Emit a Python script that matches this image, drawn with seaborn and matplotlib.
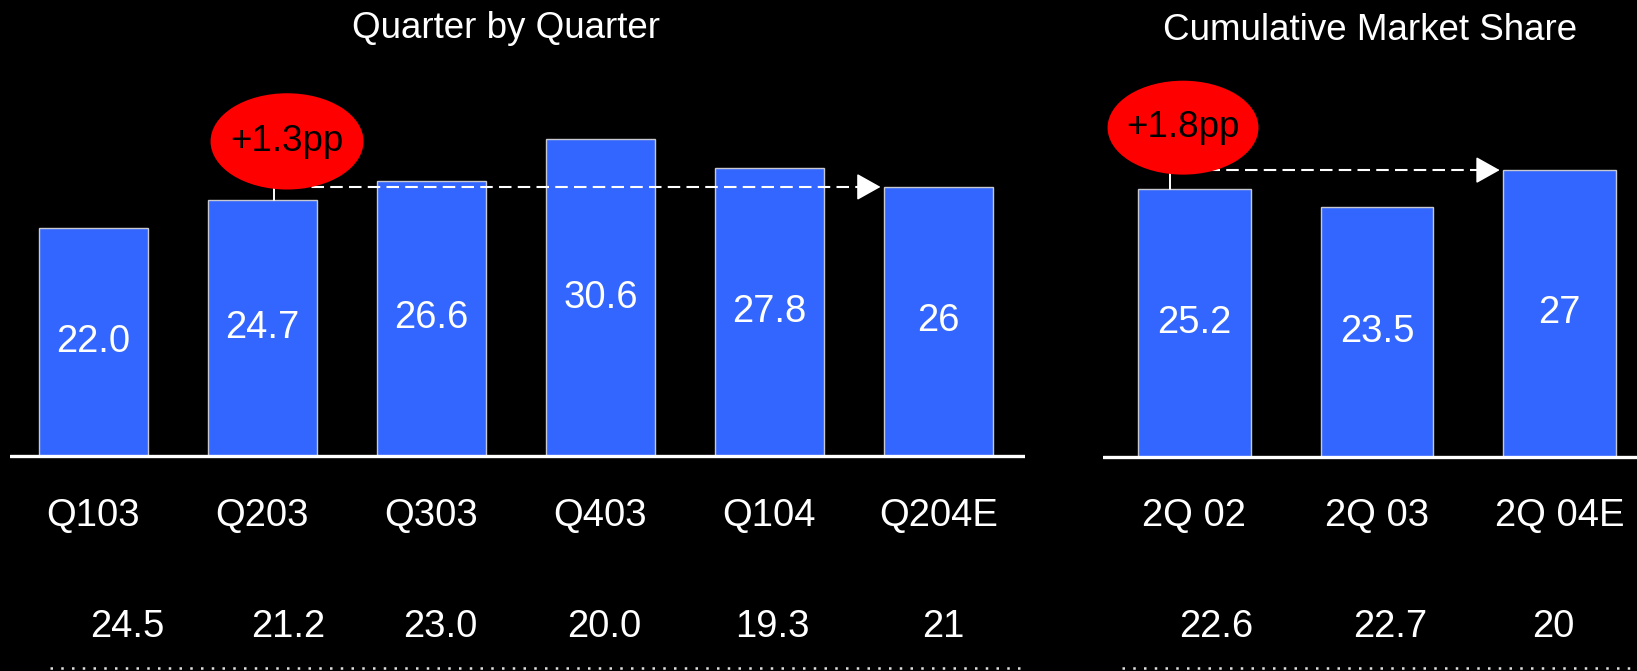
import matplotlib
matplotlib.use("Agg")
import matplotlib.pyplot as plt
from matplotlib.patches import Ellipse
import seaborn as sns

# ---------------- data ----------------
q_categories = ["Q103", "Q203", "Q303", "Q403", "Q104", "Q204E"]
q_values = [22.0, 24.7, 26.6, 30.6, 27.8, 26.0]
q_value_labels = ["22.0", "24.7", "26.6", "30.6", "27.8", "26"]
q_second_row = ["24.5", "21.2", "23.0", "20.0", "19.3", "21"]

c_categories = ["2Q 02", "2Q 03", "2Q 04E"]
c_values = [25.2, 23.5, 27.0]
c_value_labels = ["25.2", "23.5", "27"]
c_second_row = ["22.6", "22.7", "20"]

q_delta_label = "+1.3pp"
c_delta_label = "+1.8pp"

title_left = "Quarter by Quarter"
title_right = "Cumulative Market Share"

# ---------------- style ----------------
sns.set_theme(style="white")
plt.rcParams["font.family"] = ["Liberation Sans", "DejaVu Sans"]

BAR = "#3366FF"
EDGE = "#c8c8d0"
W, H = 1637, 671
fig = plt.figure(figsize=(W / 100, H / 100), dpi=100, facecolor="black")

axL = fig.add_axes([10 / W, 0, 1015 / W, 1])
axR = fig.add_axes([1103 / W, 0, 534 / W, 1])


def draw_panel(ax, cats, vals, vlabels, row2, width, xlim, ylim, row2_off):
    ax.set_facecolor("black")
    sns.barplot(x=cats, y=vals, ax=ax, color=BAR, saturation=1, width=width,
                edgecolor=EDGE, linewidth=1.0)
    ax.set_xlim(*xlim)
    ax.set_ylim(*ylim)
    ax.axis("off")
    ax.axhline(0, color="white", lw=2.4, solid_capstyle="round", zorder=3)
    ax.bar_label(ax.containers[0], labels=vlabels, label_type="center",
                 color="white", fontsize=27.5)
    tr = ax.get_xaxis_transform()
    for i, c in enumerate(cats):
        ax.text(i, 1 - 516 / H, c, transform=tr, ha="center", va="center",
                color="white", fontsize=27.5)
        ax.text(i + row2_off[i], 1 - 627 / H, row2[i], transform=tr,
                ha="center", va="center", color="white", fontsize=27.5)


draw_panel(axL, q_categories, q_values, q_value_labels, q_second_row, 0.645,
           (-0.493, 5.512), (-20.77, 44.06),
           [0.2, 0.15, 0.05, 0.02, 0.02, 0.03])
draw_panel(axR, c_categories, c_values, c_value_labels, c_second_row, 0.617,
           (-0.5, 2.423), (-20.2, 43.03),
           [0.118, 0.07, -0.037])


def delta_arrow(ax, vals, i0, i1, width, conn_dx, ell_xy, ell_wh, label):
    y0 = vals[i0]
    y1 = vals[i1]
    x0 = i0 + conn_dx
    tip = i1 - width / 2 - 0.02
    ax.plot([x0, x0], [y0, y1], color="white", lw=1.4, zorder=4)
    ax.plot([x0, tip - 0.06], [y1, y1], color="white", lw=1.5,
            linestyle=(0, (6, 3)), zorder=4)
    ax.annotate("", xy=(tip, y1), xytext=(tip - 0.07, y1),
                arrowprops=dict(arrowstyle="-|>,head_length=0.75,head_width=0.42",
                                color="white", lw=1.2, shrinkA=0, shrinkB=0,
                                mutation_scale=20),
                zorder=5)
    e = Ellipse(ell_xy, ell_wh[0], ell_wh[1], facecolor="#FF0000",
                edgecolor="none", zorder=6, clip_on=False)
    ax.add_patch(e)
    ax.text(ell_xy[0], ell_xy[1], label, ha="center", va="center",
            color="black", fontsize=26.5, zorder=7)


delta_arrow(axL, q_values, 1, 5, 0.645, 0.07, (1.146, 30.4), (0.905, 9.3),
            q_delta_label)
delta_arrow(axR, c_values, 0, 2, 0.617, -0.134, (-0.062, 31.0), (0.826, 8.85),
            c_delta_label)

fig.text(506 / W, 1 - 29 / H, title_left, ha="center", va="center",
         color="white", fontsize=26.5)
fig.text(1370 / W, 1 - 31 / H, title_right, ha="center", va="center",
         color="white", fontsize=26.5)

# dotted separators at the bottom
for x0, x1 in [(50, 1023), (1122, 1637)]:
    fig.add_artist(plt.Line2D([x0 / W, x1 / W], [1 - 668 / H, 1 - 668 / H],
                              transform=fig.transFigure, color="#e0e0e0",
                              lw=1.8, linestyle=(0, (1, 3.3)),
                              dash_capstyle="butt"))

fig.savefig("out.png", dpi=100, facecolor="black")
